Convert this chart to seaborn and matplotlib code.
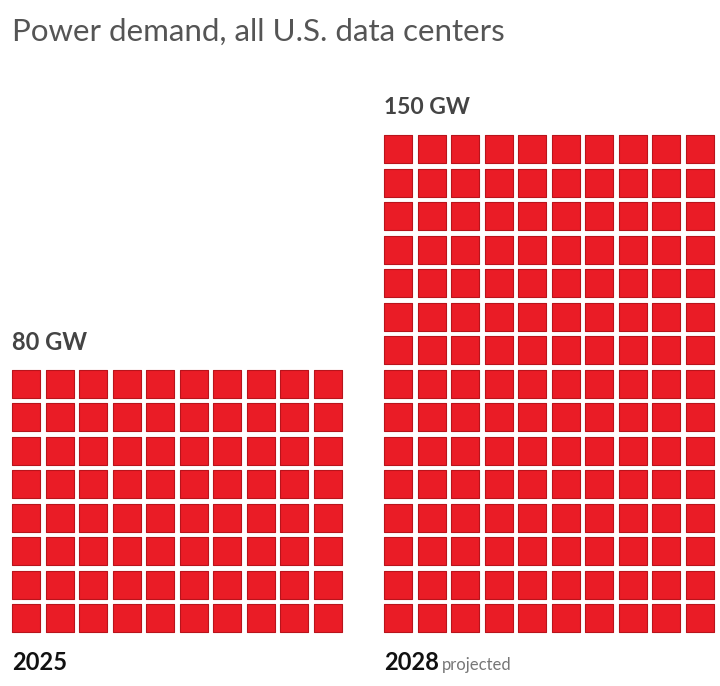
import matplotlib.pyplot as plt
import seaborn as sns
import pandas as pd

# Data: one square = 1 GW, 10 squares per row
demand = {"2025": 80, "2028": 150}
left_edge = {"2025": 26, "2028": 398}
pitch = 33.5

rows = []
for year, gw in demand.items():
    for i in range(gw):
        r, c = divmod(i, 10)
        rows.append({"year": year, "x": left_edge[year] + pitch * c, "y": 618 - pitch * r})
cells = pd.DataFrame(rows)

sns.set_style("white")
plt.rcParams["font.family"] = ["Lato", "DejaVu Sans"]

fig = plt.figure(figsize=(7.2, 6.86), dpi=100)
ax = fig.add_axes([0, 0, 1, 1])
sns.scatterplot(data=cells, x="x", y="y", marker="s", s=400, color="#ea1c26",
                edgecolor="#b8141c", linewidth=0.8, legend=False, ax=ax)
ax.set_xlim(0, 720)
ax.set_ylim(686, 0)
ax.axis("off")

ax.text(12, 32, "Power demand, all U.S. data centers", fontsize=22.5, color="#555555", va="center")
ax.text(12, 343, "80 GW", fontsize=17, fontweight="bold", color="#444444", va="center")
ax.text(384, 107, "150 GW", fontsize=16.5, fontweight="bold", color="#444444", va="center")
ax.text(12, 663, "2025", fontsize=17, fontweight="bold", color="#111111", va="center")
ax.text(384, 663, "2028", fontsize=17, fontweight="bold", color="#111111", va="center")
ax.text(442, 665, "projected", fontsize=12, color="#777777", va="center")

fig.savefig("out.png", dpi=100)
